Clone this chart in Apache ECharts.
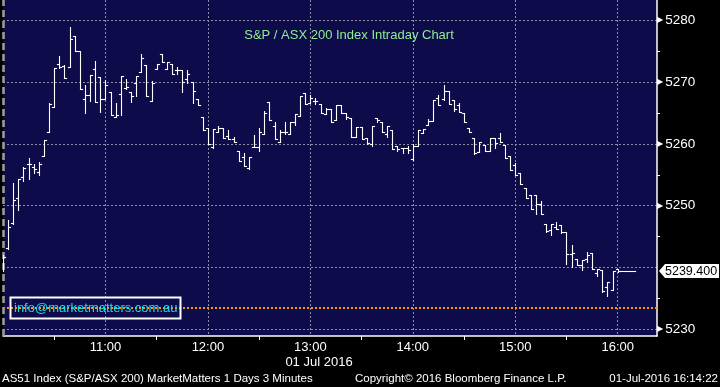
<!DOCTYPE html>
<html><head><meta charset="utf-8">
<script src="https://cdn.jsdelivr.net/npm/echarts@6/dist/echarts.min.js"></script>
<style>html,body{margin:0;padding:0;background:#000}#c{width:720px;height:387px}</style>
</head><body><div id="c"></div>
<script>
// 3-minute OHLC bars from 10:00, 01 Jul 2016 (AS51 Index)
const barMinutes = 3;
const opens = [5240.0,5243.1,5247.2,5251.3,5254.7,5256.8,5256.3,5255.4,5258.1,5262.0,
5265.9,5273.0,5272.6,5272.4,5277.4,5275.0,5267.2,5267.9,5272.2,5270.9,
5267.3,5268.4,5264.4,5268.1,5269.1,5268.4,5269.8,5271.6,5272.8,5267.0,
5272.1,5274.5,5272.1,5272.9,5272.0,5272.0,5270.5,5270.1,5267.2,5264.3,
5262.6,5259.5,5262.0,5262.6,5261.3,5260.8,5258.9,5257.9,5256.1,5259.5,
5259.5,5261.6,5266.8,5262.9,5260.3,5262.0,5261.6,5263.6,5264.6,5268.2,
5266.7,5267.0,5266.5,5264.8,5265.6,5263.8,5266.3,5265.0,5264.2,5261.1,
5262.7,5260.9,5260.0,5264.2,5263.5,5261.6,5262.3,5259.6,5259.3,5259.3,
5257.5,5259.6,5261.8,5263.0,5263.7,5267.4,5267.2,5268.6,5267.1,5266.3,
5265.0,5262.6,5260.9,5258.7,5259.9,5258.9,5260.9,5261.0,5259.8,5258.0,
5256.6,5255.3,5252.9,5251.8,5251.8,5250.2,5247.1,5246.0,5246.6,5246.8,
5245.8,5242.2,5241.3,5240.4,5241.3,5242.4,5239.1,5239.6,5236.9,5236.4,
5239.7,5239.4,5239.4,5239.4];
const highs = [5242.0,5247.6,5253.7,5254.4,5256.3,5257.7,5256.7,5257.0,5260.6,5266.6,
5272.3,5274.3,5272.7,5278.9,5277.4,5275.0,5269.5,5271.1,5273.5,5270.9,
5270.3,5268.4,5266.6,5271.0,5270.5,5268.4,5271.0,5274.5,5272.8,5270.2,
5272.9,5274.5,5273.3,5272.9,5272.5,5272.0,5272.0,5270.1,5267.2,5264.3,
5262.6,5262.4,5262.9,5262.6,5262.3,5261.2,5258.9,5258.6,5257.9,5261.5,
5262.6,5265.3,5266.8,5263.6,5262.2,5263.6,5263.6,5264.9,5267.8,5268.2,
5268.0,5267.4,5266.5,5265.8,5265.6,5266.3,5266.3,5265.0,5264.2,5262.8,
5262.7,5260.9,5262.9,5264.2,5263.5,5262.9,5262.3,5259.7,5259.4,5259.6,
5260.0,5262.3,5262.4,5264.0,5267.1,5267.9,5269.5,5268.6,5267.1,5266.6,
5265.0,5262.6,5260.9,5260.3,5259.9,5261.0,5260.9,5261.8,5259.8,5258.0,
5256.9,5255.3,5252.9,5251.8,5251.8,5250.8,5247.1,5247.1,5247.3,5246.8,
5245.8,5243.6,5241.3,5241.2,5242.5,5242.4,5239.8,5239.6,5237.7,5239.5,
5239.7,5239.4,5239.4,5239.4];
const lows = [5239.5,5243.0,5247.1,5249.3,5254.0,5254.3,5255.3,5254.9,5258.1,5262.0,
5265.9,5272.3,5270.6,5272.4,5275.0,5268.9,5265.0,5267.0,5266.8,5265.2,
5267.3,5264.7,5264.3,5264.7,5268.9,5266.8,5267.7,5271.6,5267.7,5267.0,
5272.1,5273.2,5272.1,5271.4,5271.4,5268.4,5269.8,5266.6,5266.3,5262.3,
5260.0,5259.4,5262.0,5260.9,5260.8,5260.3,5257.2,5256.4,5255.9,5259.5,
5258.9,5261.6,5263.8,5260.8,5260.3,5261.6,5261.6,5263.1,5264.6,5266.4,
5266.6,5266.4,5265.0,5264.8,5263.6,5263.8,5265.0,5264.0,5261.2,5261.1,
5260.8,5260.0,5259.6,5263.5,5261.9,5261.2,5259.1,5258.8,5258.5,5258.5,
5257.4,5259.6,5261.8,5263.0,5263.7,5266.3,5267.1,5266.4,5265.3,5265.1,
5263.6,5262.0,5258.3,5258.7,5258.9,5258.9,5259.3,5260.3,5257.8,5255.7,
5254.9,5253.5,5251.2,5249.4,5248.6,5248.6,5245.8,5245.2,5246.3,5245.6,
5240.6,5240.1,5240.4,5239.6,5240.9,5239.7,5238.6,5236.1,5235.4,5236.4,
5239.3,5239.4,5239.4,5239.4];
const closes = [5241.7,5246.5,5251.0,5254.3,5256.1,5256.8,5255.9,5256.7,5260.6,5266.5,
5272.3,5272.4,5270.7,5277.0,5275.0,5268.9,5267.9,5271.1,5266.8,5267.3,
5269.6,5264.7,5264.7,5271.0,5269.2,5267.8,5271.0,5273.9,5267.7,5269.8,
5272.9,5273.2,5273.3,5271.4,5272.0,5270.0,5271.3,5268.5,5266.3,5262.3,
5260.0,5262.4,5262.6,5260.9,5260.8,5260.3,5257.2,5256.4,5257.9,5259.5,
5261.9,5265.0,5263.8,5260.8,5262.0,5261.9,5263.6,5264.9,5267.8,5266.4,
5267.4,5267.0,5265.0,5265.6,5263.6,5266.3,5265.0,5264.3,5261.2,5262.7,
5260.8,5260.1,5262.9,5263.8,5261.9,5262.9,5259.2,5259.2,5259.3,5259.0,
5259.7,5262.3,5262.4,5263.7,5267.1,5266.3,5268.5,5266.4,5265.7,5265.2,
5263.6,5262.0,5258.5,5260.3,5258.9,5260.9,5260.1,5260.3,5257.8,5255.7,
5254.9,5253.5,5251.3,5249.4,5250.2,5248.6,5245.9,5247.1,5246.3,5245.8,
5242.1,5242.3,5240.4,5241.2,5242.0,5239.7,5239.8,5236.2,5237.7,5239.5,
5239.4,5239.4,5239.4,5239.4];
const hourLabels = ['11:00','12:00','13:00','14:00','15:00','16:00'];
const priceLabels = [5230, 5250, 5260, 5270, 5280]; // 5240 sits under the last-price tag
const lastPrice = 5239.4;
const refLevel = 5233.5;
const xMin = 0, xMax = 383;        // minutes after 10:00
const yMin = 5228.9, yMax = 5283.3;

const data = opens.map((o, i) => [i * barMinutes, o, highs[i], lows[i], closes[i]]);

const GRID = {left: 0, top: 0, width: 657, height: 336};
const chart = echarts.init(document.getElementById('c'));

function renderItem(params, api) {
  const x = api.value(0);
  const o = api.coord([x, api.value(1)]);
  const h = api.coord([x, api.value(2)]);
  const l = api.coord([x, api.value(3)]);
  const c = api.coord([x, api.value(4)]);
  const px = Math.round(o[0]) + 0.5;
  const st = {stroke: '#ffffff', lineWidth: 1.1};
  const t = 2.6;
  const yo = Math.round(o[1]) + 0.5, yc = Math.round(c[1]) + 0.5;
  return {type: 'group', children: [
    {type: 'line', shape: {x1: px, y1: Math.round(h[1]), x2: px, y2: Math.round(l[1]) + 1}, style: st},
    {type: 'line', shape: {x1: px - t, y1: yo, x2: px, y2: yo}, style: st},
    {type: 'line', shape: {x1: px, y1: yc, x2: px + t, y2: yc}, style: st}
  ]};
}

const gridLine = {color: '#8f8fa3', width: 1, type: [2, 2]};
const FONT = 'Liberation Sans, Arial, sans-serif';

chart.setOption({
  backgroundColor: '#000000',
  animation: false,
  grid: Object.assign({show: true, backgroundColor: '#0e0b4b', borderWidth: 0}, GRID),
  xAxis: {
    type: 'value', min: xMin, max: xMax, interval: 60,
    axisLine: {show: true, onZero: false, lineStyle: {color: '#ffffff', width: 1.5}},
    axisTick: {show: false},
    minorTick: {show: true, splitNumber: 2, length: 4, lineStyle: {color: '#ffffff', width: 1}},
    axisLabel: {color: '#ffffff', fontSize: 13, fontFamily: FONT, margin: 5,
      formatter: v => (v > 0 && v % 60 === 0 && hourLabels[v / 60 - 1]) ? hourLabels[v / 60 - 1] : ''},
    splitLine: {show: true, showMinLine: false, showMaxLine: false, lineStyle: gridLine}
  },
  yAxis: {
    type: 'value', position: 'right', min: yMin, max: yMax, scale: true,
    axisLine: {show: true, onZero: false, lineStyle: {color: '#ffffff', width: 1.5}},
    axisTick: {show: false},
    minorTick: {show: true, splitNumber: 2, length: 3, lineStyle: {color: '#ffffff', width: 1}},
    axisLabel: {margin: 0,
      formatter: v => priceLabels.indexOf(Math.round(v * 10) / 10) >= 0 ? '{t|\u25B6}{v|' + Math.round(v) + '}' : '',
      rich: {
        t: {fontFamily: 'DejaVu Sans', fontSize: 8, color: '#ffffff', padding: [0, 2, 0, 0]},
        v: {fontFamily: FONT, fontSize: 13.5, color: '#ffffff'}
      }},
    splitLine: {show: true, showMinLine: false, showMaxLine: false, lineStyle: gridLine}
  },
  series: [
    {
      type: 'line', data: [], silent: true, symbol: 'none', z: 1,
      markLine: {silent: true, symbol: 'none', animation: false, label: {show: false},
        data: [
          {yAxis: refLevel, lineStyle: {color: '#ff9a00', width: 2, type: [2, 2]}},
          {xAxis: xMin, lineStyle: {color: '#9a9a9a', width: 2.6, type: [7, 4]}}
        ]}
    },
    {type: 'custom', data: data, encode: {x: 0, y: [1, 2, 3, 4]}, renderItem: renderItem, z: 5, clip: true}
  ]
});

const yLast = chart.convertToPixel({yAxisIndex: 0}, lastPrice);
const xEdge = chart.convertToPixel({xAxisIndex: 0}, xMax);
const tagY = Math.round(yLast);

chart.setOption({
  graphic: [
    {type: 'text', style: {text: 'S&P / ASX 200 Index Intraday Chart', x: 349, y: 35,
      fill: '#90ee90', font: '13px ' + FONT, textAlign: 'center', textVerticalAlign: 'middle'}, z: 10},
    {type: 'rect', shape: {x: 10.5, y: 297.5, width: 170, height: 21}, style: {fill: 'none', stroke: '#ffffff', lineWidth: 2}, z: 10},
    {type: 'text', style: {text: 'info@marketmatters.com.au', x: 14, y: 308.5, fill: '#14dde6',
      font: '13px ' + FONT, textVerticalAlign: 'middle'}, z: 11},
    {type: 'polygon', shape: {points: [[xEdge + 2, tagY], [xEdge + 8, tagY - 7], [xEdge + 62, tagY - 7], [xEdge + 62, tagY + 7], [xEdge + 8, tagY + 7]]},
      style: {fill: '#ffffff'}, z: 10},
    {type: 'text', style: {text: lastPrice.toFixed(3), x: xEdge + 8, y: tagY + 0.5, fill: '#000000',
      font: '12.5px ' + FONT, textVerticalAlign: 'middle'}, z: 11},
    {type: 'text', style: {text: '01 Jul 2016', x: 319, y: 362, fill: '#ffffff', font: '13px ' + FONT,
      textAlign: 'center', textVerticalAlign: 'middle'}, z: 10},
    {type: 'text', style: {text: 'AS51 Index (S&P/ASX 200) MarketMatters 1 Days 3 Minutes', x: 2, y: 379,
      fill: '#ffffff', font: '11.5px ' + FONT, textVerticalAlign: 'middle'}, z: 10},
    {type: 'text', style: {text: 'Copyright\u00A9 2016 Bloomberg Finance L.P.', x: 355, y: 379,
      fill: '#ffffff', font: '11.5px ' + FONT, textVerticalAlign: 'middle'}, z: 10},
    {type: 'text', style: {text: '01-Jul-2016 16:14:22', x: 718, y: 379,
      fill: '#ffffff', font: '11.5px ' + FONT, textAlign: 'right', textVerticalAlign: 'middle'}, z: 10}
  ]
});
</script></body></html>
